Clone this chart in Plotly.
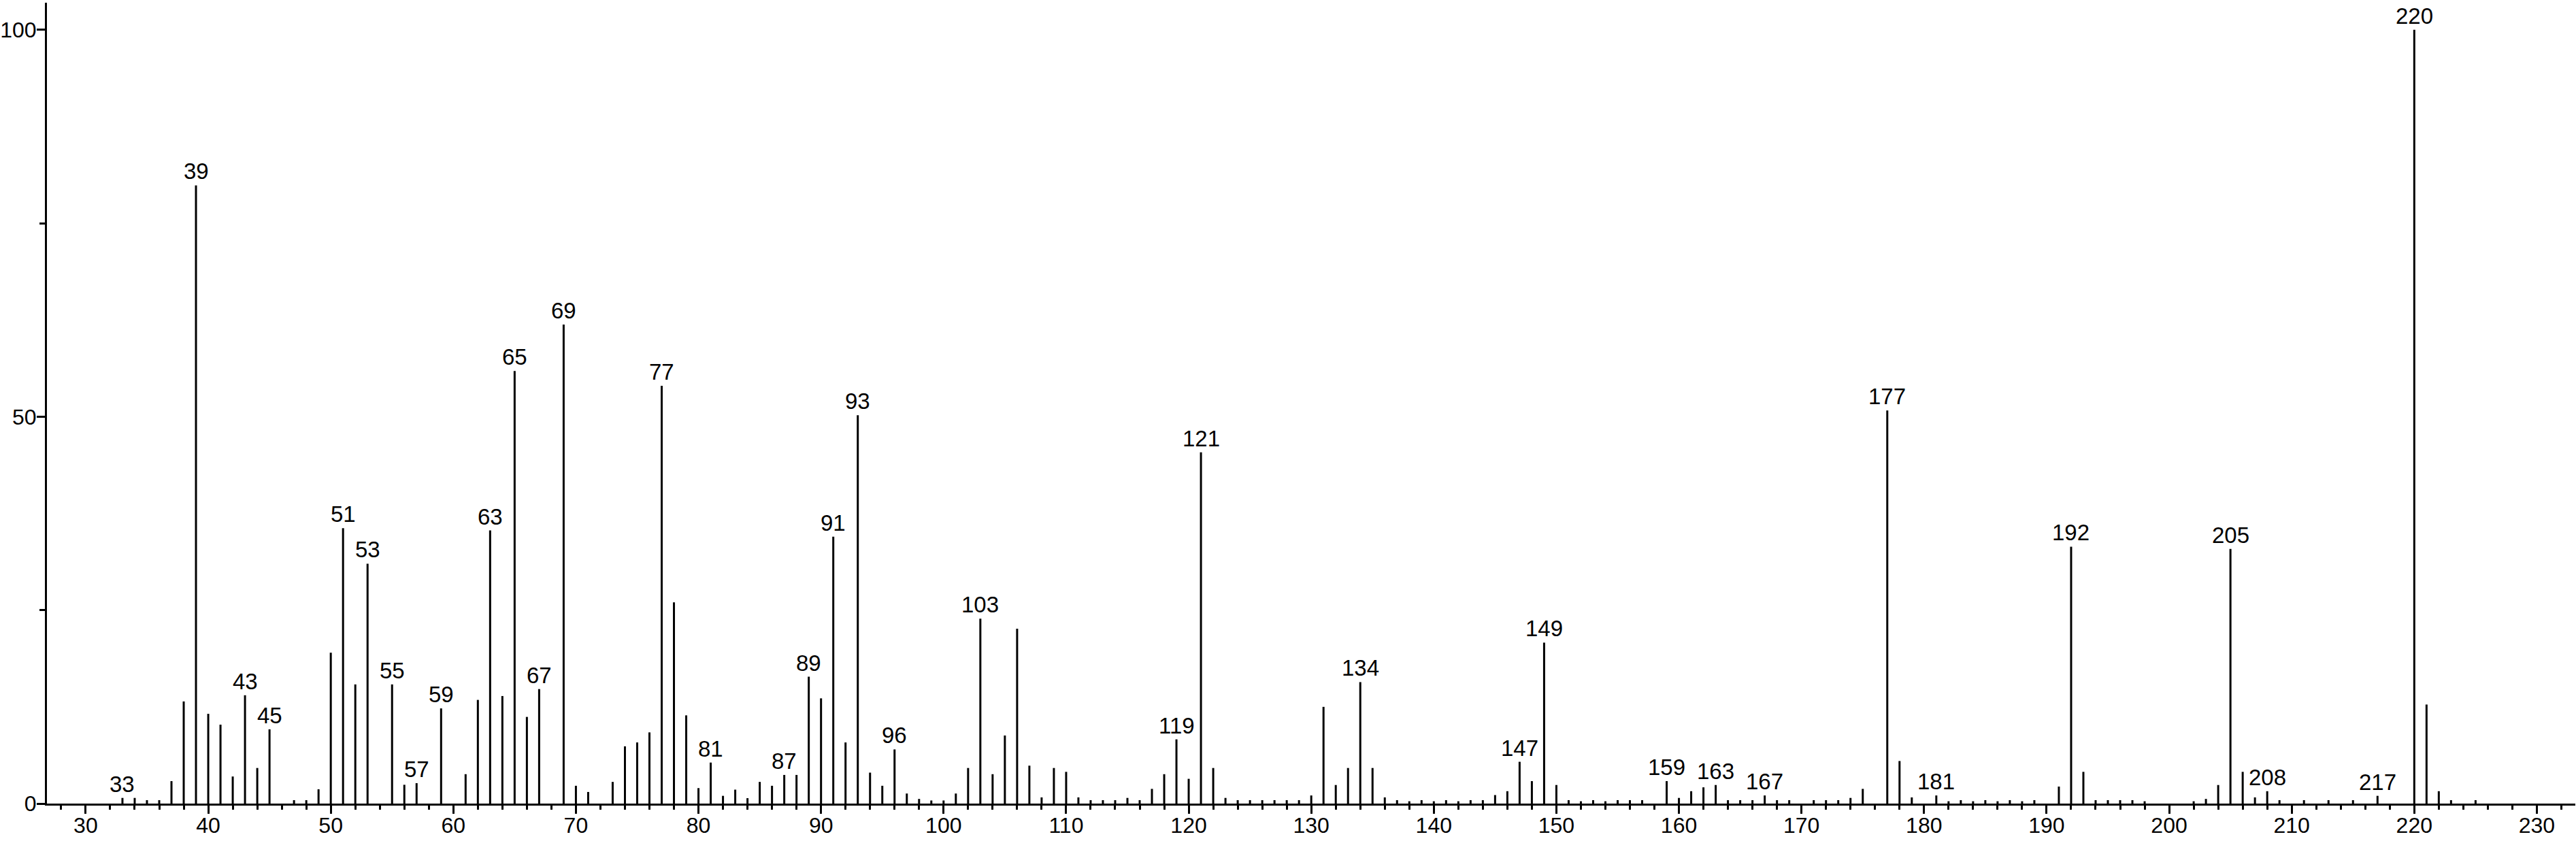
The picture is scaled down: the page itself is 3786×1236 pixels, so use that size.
import plotly.graph_objects as go

# m/z values and relative intensities (%)
MZ = [33, 34, 35, 36, 37, 38, 39, 40, 41, 42, 43, 44, 45, 47, 48, 49,
      50, 51, 52, 53, 55, 56, 57, 59, 61, 62, 63, 64, 65, 66, 67, 69,
      70, 71, 73, 74, 75, 76, 77, 78, 79, 80, 81, 82, 83, 84, 85, 86,
      87, 88, 89, 90, 91, 92, 93, 94, 95, 96, 97, 98, 99, 100, 101, 102,
      103, 104, 105, 106, 107, 108, 109, 110, 111, 112, 113, 114, 115, 116, 117, 118,
      119, 120, 121, 122, 123, 124, 125, 126, 127, 128, 129, 130, 131, 132, 133, 134,
      135, 136, 137, 138, 139, 140, 141, 142, 143, 144, 145, 146, 147, 148, 149, 150,
      151, 152, 153, 154, 155, 156, 157, 159, 160, 161, 162, 163, 164, 165, 166, 167,
      168, 169, 171, 172, 173, 174, 175, 177, 178, 179, 181, 182, 183, 184, 185, 186,
      187, 188, 189, 191, 192, 193, 194, 195, 196, 197, 198, 202, 203, 204, 205, 206,
      207, 208, 209, 211, 213, 215, 217, 220, 221, 222, 223, 225]

INTENSITY = [0.73, 0.73, 0.44, 0.44, 2.9, 13.2, 79.9, 11.6, 10.2, 3.5, 14.0, 4.6, 9.6, 0.44, 0.44, 1.85,
             19.5, 35.6, 15.4, 31.0, 15.4, 2.43, 2.64, 12.3, 3.8, 13.4, 35.3, 13.9, 55.9, 11.2, 14.8, 61.9,
             2.3, 1.5, 2.8, 7.4, 7.9, 9.2, 54.0, 26.0, 11.4, 2.0, 5.3, 1.0, 1.8, 0.7, 2.8, 2.3,
             3.7, 3.7, 16.4, 13.6, 34.5, 7.9, 50.2, 4.0, 2.3, 7.0, 1.3, 0.6, 0.4, 0.4, 1.3, 4.6,
             23.9, 3.8, 8.8, 22.6, 4.9, 0.8, 4.6, 4.1, 0.8, 0.44, 0.44, 0.44, 0.73, 0.44, 1.9, 3.8,
             8.3, 3.2, 45.4, 4.6, 0.73, 0.44, 0.44, 0.44, 0.44, 0.44, 0.44, 1.05, 12.5, 2.4, 4.6, 15.7,
             4.6, 0.8, 0.44, 0.3, 0.44, 0.3, 0.44, 0.3, 0.44, 0.44, 1.1, 1.6, 5.4, 2.9, 20.8, 2.4,
             0.44, 0.3, 0.44, 0.3, 0.44, 0.44, 0.44, 2.9, 0.73, 1.6, 2.1, 2.4, 0.44, 0.44, 0.44, 1.05,
             0.44, 0.44, 0.44, 0.44, 0.44, 0.73, 1.9, 50.8, 5.5, 0.8, 1.05, 0.3, 0.44, 0.3, 0.44, 0.3,
             0.44, 0.3, 0.44, 2.2, 33.2, 4.1, 0.44, 0.44, 0.44, 0.44, 0.3, 0.3, 0.6, 2.4, 32.9, 4.1,
             0.8, 1.6, 0.44, 0.44, 0.44, 0.44, 1.0, 100.0, 12.8, 1.6, 0.44, 0.44]

# peaks that carry an m/z label
LABELED = [33, 39, 43, 45, 51, 53, 55, 57, 59, 63, 65, 67, 69, 77, 81, 87, 89, 91,
           93, 96, 103, 119, 121, 134, 147, 149, 159, 163, 167, 177, 181, 192, 205,
           208, 217, 220]

FONT = "Liberation Sans, Arial, sans-serif"

# build stick spectrum as one line trace with gaps
xs, ys = [], []
for m, h in zip(MZ, INTENSITY):
    xs += [m, m, None]
    ys += [0, h, None]

fig = go.Figure()
fig.add_trace(
    go.Scatter(
        x=xs,
        y=ys,
        mode="lines",
        line=dict(color="black", width=3),
        hoverinfo="skip",
        showlegend=False,
    )
)

peak = dict(zip(MZ, INTENSITY))
annotations = []
for m in LABELED:
    annotations.append(dict(
        x=m, y=peak[m],
        xref="x", yref="y",
        text=str(m),
        showarrow=False,
        xanchor="center", yanchor="bottom",
        font=dict(family=FONT, size=33, color="black"),
    ))

axis_common = dict(
    showgrid=False,
    zeroline=False,
    showline=True,
    linecolor="black",
    linewidth=3,
    ticks="outside",
    ticklen=12,
    tickwidth=3,
    tickcolor="black",
    automargin=False,
)

fig.update_layout(
    width=3786,
    height=1236,
    autosize=False,
    margin=dict(l=69, r=1, t=4, b=55),
    paper_bgcolor="white",
    plot_bgcolor="white",
    font=dict(family=FONT, size=32, color="black"),
    annotations=annotations,
    xaxis=dict(
        range=[26.84, 233.14],
        tick0=0,
        dtick=10,
        minor=dict(ticks="outside", ticklen=6, tickwidth=3, tickcolor="black",
                   dtick=2, tick0=0, showgrid=False),
        tickfont=dict(family=FONT, size=32, color="black"),
        ticklabelstandoff=-10,
        **axis_common,
    ),
    yaxis=dict(
        range=[0, 103.5],
        tick0=0,
        dtick=50,
        minor=dict(ticks="outside", ticklen=8, tickwidth=3, tickcolor="black",
                   dtick=25, tick0=0, showgrid=False),
        tickfont=dict(family=FONT, size=32, color="black"),
        ticklabelstandoff=-6,
        **axis_common,
    ),
)

# drop the default page margin so the figure sits at the window origin
fig.write_html(
    "out.html",
    config={"displayModeBar": False},
    post_script="document.body.style.margin='0';",
)
